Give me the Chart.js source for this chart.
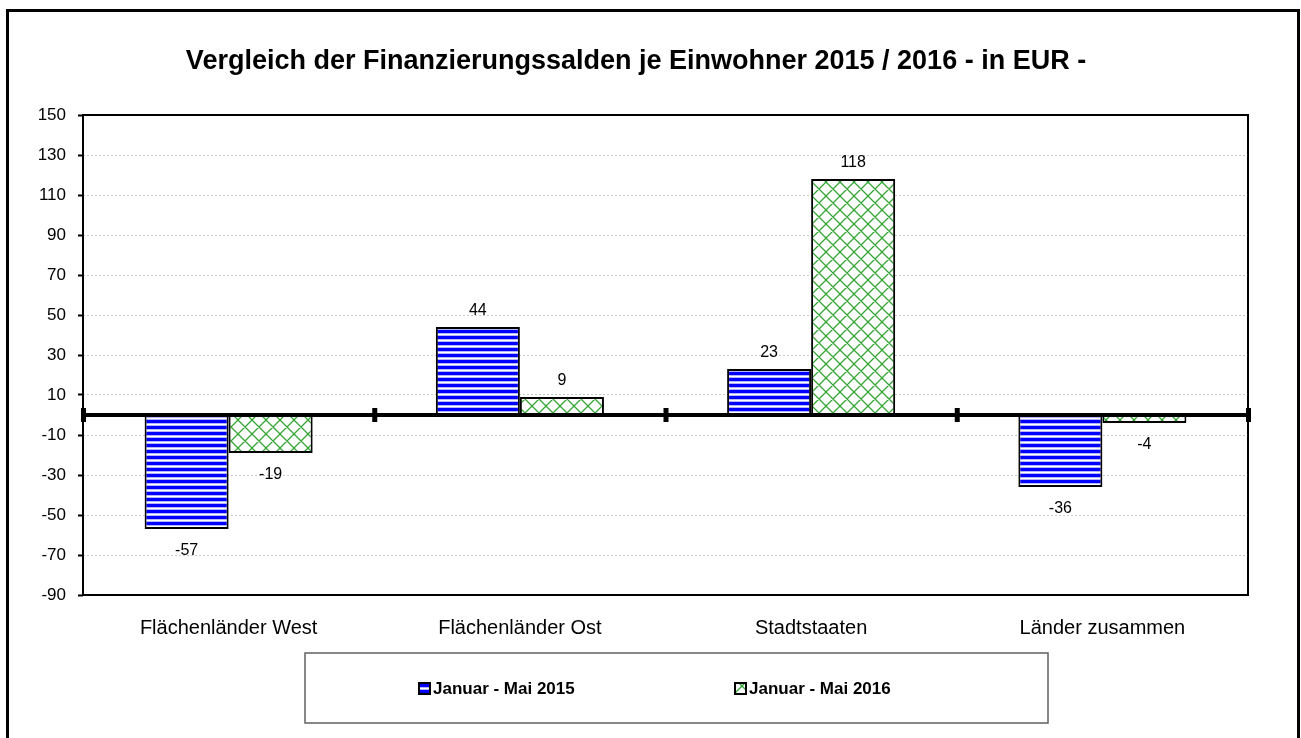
<!DOCTYPE html>
<html>
<head>
<meta charset="utf-8">
<script src="https://cdn.jsdelivr.net/npm/chart.js@4/dist/chart.umd.min.js"></script>
<style>
    body { margin: 0; background: #fff; }
    #wrap { width: 1301px; height: 738px; position: relative; }
</style>
</head>
<body>
<div id="wrap"><canvas id="saldenChart"></canvas></div>
<script>
// Chart data
const categories = ['Flächenländer West', 'Flächenländer Ost', 'Stadtstaaten', 'Länder zusammen'];
const seriesNames = ['Januar - Mai 2015', 'Januar - Mai 2016'];
const values2015 = [-57, 44, 23, -36];
const values2016 = [-19, 9, 118, -4];
const titleText = 'Vergleich der Finanzierungssalden je Einwohner 2015 / 2016 - in EUR -';

const FONT = 'Arial, "Liberation Sans", sans-serif';

// Horizontal blue stripes
function stripePattern() {
    const c = document.createElement('canvas');
    c.width = 8;
    c.height = 6;
    const g = c.getContext('2d');
    g.fillStyle = '#ffffff';
    g.fillRect(0, 0, 8, 6);
    g.fillStyle = '#0000ff';
    g.fillRect(0, 0, 8, 3);
    g.fillStyle = '#b4b4ff';
    g.fillRect(0, 3, 8, 1);
    g.fillRect(0, 5, 8, 1);
    return g.createPattern(c, 'repeat');
}

// Green diagonal crosshatch
function hatchPattern() {
    const p = 14;
    const c = document.createElement('canvas');
    c.width = p;
    c.height = p;
    const g = c.getContext('2d');
    g.fillStyle = '#ffffff';
    g.fillRect(0, 0, p, p);
    g.strokeStyle = '#35a535';
    g.lineWidth = 1.3;
    g.beginPath();
    [-p, 0, p].forEach(dx => {
        g.moveTo(dx, 0); g.lineTo(dx + p, p);
        g.moveTo(dx + p, 0); g.lineTo(dx, p);
    });
    g.stroke();
    return g.createPattern(c, 'repeat');
}

const fills = [stripePattern(), hatchPattern()];

// Frame, title, zero line, value labels and legend box
const decorPlugin = {
    id: 'decor',
    beforeDraw(chart) {
        const ctx = chart.ctx;
        ctx.save();
        ctx.fillStyle = '#ffffff';
        ctx.fillRect(0, 0, chart.width, chart.height);
        ctx.restore();
    },
    afterDatasetsDraw(chart) {
        const ctx = chart.ctx;
        const area = chart.chartArea;
        const y = chart.scales.y;
        const y0 = y.getPixelForValue(0);
        ctx.save();

        // plot frame
        ctx.strokeStyle = '#000';
        ctx.lineWidth = 2;
        ctx.strokeRect(area.left, area.top, area.right - area.left, area.bottom - area.top);

        // thick zero line
        ctx.lineWidth = 4;
        ctx.beginPath();
        ctx.moveTo(area.left, y0);
        ctx.lineTo(area.right + 2, y0);
        ctx.stroke();

        // category separators on the zero line
        const step = (area.right - area.left) / categories.length;
        ctx.fillStyle = '#000';
        for (let i = 0; i <= categories.length; i++) {
            const px = area.left + i * step;
            ctx.fillRect(px - 2, y0 - 7, 5, 14);
        }

        // value labels
        ctx.font = '16px ' + FONT;
        ctx.textAlign = 'center';
        ctx.textBaseline = 'middle';
        chart.data.datasets.forEach((ds, di) => {
            const meta = chart.getDatasetMeta(di);
            meta.data.forEach((bar, i) => {
                const v = ds.data[i];
                const ly = v >= 0 ? bar.y - 16 : bar.y + 22;
                ctx.fillText(String(v), bar.x, ly);
            });
        });

        // title
        ctx.font = 'bold 27px ' + FONT;
        ctx.fillText(titleText, 636, 62);

        // legend
        ctx.strokeStyle = '#606060';
        ctx.lineWidth = 1.5;
        ctx.strokeRect(305, 653, 743, 70);
        const legendX = [419, 735];
        ctx.font = 'bold 17px ' + FONT;
        ctx.textAlign = 'left';
        chart.data.datasets.forEach((ds, di) => {
            const lx = legendX[di];
            ctx.fillStyle = ds.backgroundColor;
            ctx.fillRect(lx, 683, 11, 11);
            ctx.strokeStyle = '#000';
            ctx.lineWidth = 2;
            ctx.strokeRect(lx, 683, 11, 11);
            ctx.fillStyle = '#000';
            ctx.fillText(ds.label, lx + 14, 689);
        });

        // outer border
        ctx.strokeStyle = '#000';
        ctx.lineWidth = 3;
        ctx.strokeRect(7.5, 10.5, 1291, 760);
        ctx.restore();
    }
};

const ctx = document.getElementById('saldenChart').getContext('2d');
const chart = new Chart(ctx, {
    type: 'bar',
    data: {
        labels: categories,
        datasets: [
            {
                label: seriesNames[0],
                data: values2015,
                backgroundColor: fills[0],
                borderColor: '#000',
                borderWidth: 2,
                borderSkipped: false
            },
            {
                label: seriesNames[1],
                data: values2016,
                backgroundColor: fills[1],
                borderColor: '#000',
                borderWidth: 2,
                borderSkipped: false
            }
        ]
    },
    options: {
        responsive: true,
        maintainAspectRatio: false,
        animation: false,
        categoryPercentage: 0.577,
        barPercentage: 1,
        layout: {
            padding: { left: 0, top: 115, right: 53, bottom: 0 }
        },
        plugins: {
            legend: { display: false },
            title: { display: false },
            tooltip: { enabled: false }
        },
        scales: {
            x: {
                grid: { display: false },
                border: { display: false },
                ticks: {
                    color: '#000',
                    padding: 13,
                    maxRotation: 0,
                    font: { family: FONT, size: 20 }
                },
                afterFit: scale => { scale.height = 143; }
            },
            y: {
                min: -90,
                max: 150,
                ticks: {
                    stepSize: 20,
                    color: '#000',
                    padding: 12,
                    font: { family: FONT, size: 17 }
                },
                grid: {
                    color: '#c8c8c8',
                    lineWidth: 1,
                    tickLength: 5,
                    tickColor: '#000',
                    tickWidth: 2
                },
                border: { display: false, dash: [2, 2] },
                afterFit: scale => { scale.width = 83; }
            }
        }
    },
    plugins: [decorPlugin]
});
</script>
</body>
</html>
